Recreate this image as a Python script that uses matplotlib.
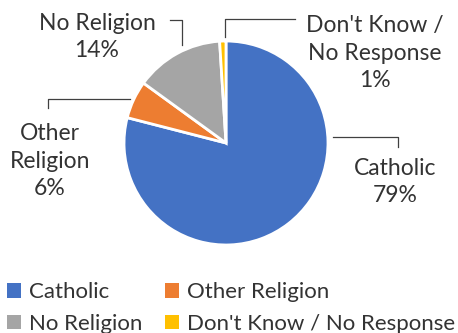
import matplotlib
matplotlib.use("Agg")
import matplotlib.pyplot as plt
from matplotlib.lines import Line2D

plt.rcParams['font.family'] = ['Lato', 'DejaVu Sans']

# data
labels = ["Catholic", "Other Religion", "No Religion", "Don't Know / No Response"]
values = [79, 6, 14, 1]
colors = ["#4472C4", "#ED7D31", "#A5A5A5", "#FFC000"]
label_text = ["Catholic", "Other\nReligion", "No Religion", "Don't Know /\nNo Response"]

W, H = 458, 333
fig = plt.figure(figsize=(W / 100, H / 100), dpi=100)


def fx(x):
    return x / W


def fy(y):
    return 1 - y / H


# pie, centre (226,143) px, radius 103 px
cx, cy, r = 226, 143, 103
ax = fig.add_axes([fx(cx - r), fy(cy + r), 2 * r / W, 2 * r / H])
wedges, _ = ax.pie(values, colors=colors, startangle=90, counterclock=False,
                   wedgeprops=dict(edgecolor="white", linewidth=2))
ax.set_xlim(-1.01, 1.01)
ax.set_ylim(-1.01, 1.01)

# data labels (pixel positions)
txt_pos = [(395, 182), (50, 161), (97, 37), (375, 53)]
for lab, v, (x, y) in zip(label_text, values, txt_pos):
    fig.text(fx(x), fy(y), f"{lab}\n{v}%", ha="center", va="center",
             fontsize=16.5, color="#333333", linespacing=1.4)

# leader lines
leaders = [
    [(333, 137), (398, 137), (398, 147)],
    [(130, 99), (48, 99), (48, 108)],
    [(170, 20), (182, 20), (182, 45)],
    [(295, 19), (225, 19), (225, 37)],
]
for pts in leaders:
    xs = [fx(p[0]) for p in pts]
    ys = [fy(p[1]) for p in pts]
    fig.add_artist(Line2D(xs, ys, color="#404040", lw=0.9))

# legend filled column-wise, so reorder to get rows Catholic/Other, No/Don't
order = [0, 2, 1, 3]
leg = fig.legend([wedges[i] for i in order], [labels[i] for i in order],
                 loc="lower left", bbox_to_anchor=(fx(7), fy(334)),
                 ncol=2, frameon=False, fontsize=16, handlelength=0.62,
                 handleheight=0.62, handletextpad=0.35, columnspacing=1.05,
                 labelspacing=0.52, borderpad=0.0, borderaxespad=0)
for t in leg.get_texts():
    t.set_color("#333333")
for h in leg.legend_handles:
    h.set_edgecolor("none")

fig.savefig("out.png", dpi=100)
